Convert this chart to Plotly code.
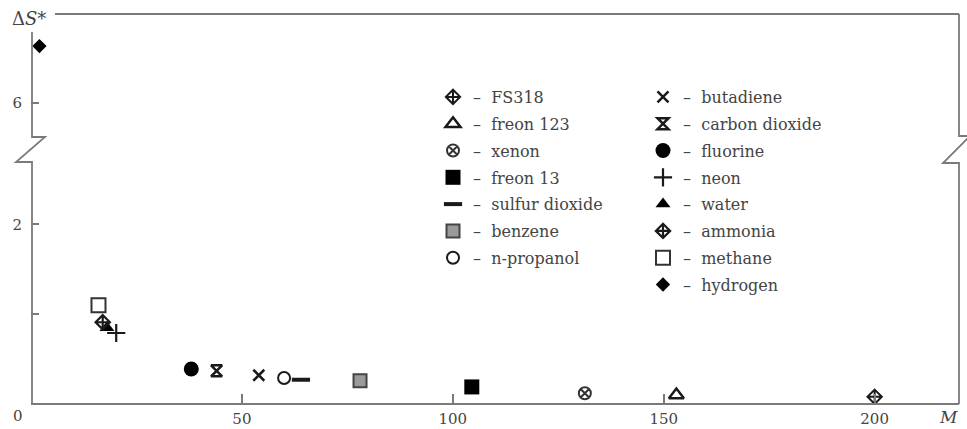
import plotly.graph_objects as go

# ---- data ----
substances = ["FS318", "freon 123", "xenon", "freon 13", "sulfur dioxide", "benzene", "n-propanol",
              "butadiene", "carbon dioxide", "fluorine", "neon", "water", "ammonia", "methane", "hydrogen"]
molar_mass = [200, 153, 131.3, 104.5, 64, 78, 60, 54, 44, 38, 20.2, 18, 17, 16, 2]
delta_s = [0.08, 0.10, 0.12, 0.19, 0.27, 0.26, 0.29, 0.32, 0.37, 0.39, 0.79, 0.85, 0.91, 1.10, 6.64]
legend_column = [1, 1, 1, 1, 1, 1, 1, 2, 2, 2, 2, 2, 2, 2, 2]
x_ticks = [50, 100, 150, 200]
y_ticks_low = [1, 2]
y_ticklabels_low = ["", "2"]
y_ticks_high = [6]

# ---- styles ----
DARK = "#1a1a1a"
LINE = "#7a7a7a"
TXT = "#444444"
FONT = "DejaVu Serif"

styles = {
    "FS318": dict(symbol="diamond-cross-open", size=11, color=DARK, line=dict(width=2, color=DARK)),
    "freon 123": dict(symbol="triangle-up-open", size=13, color=DARK, line=dict(width=2.5, color=DARK)),
    "xenon": dict(symbol="circle-x-open", size=12, color="#333", line=dict(width=2, color="#333")),
    "freon 13": dict(symbol="square", size=15, color="#000", line=dict(width=0)),
    "sulfur dioxide": dict(symbol="line-ew", size=13, color=DARK, line=dict(width=4, color=DARK)),
    "benzene": dict(symbol="square", size=13, color="#9a9a9a", line=dict(width=2, color="#444")),
    "n-propanol": dict(symbol="circle-open", size=12, color=DARK, line=dict(width=2, color=DARK)),
    "butadiene": dict(symbol="x-thin-open", size=11, color=DARK, line=dict(width=2.5, color=DARK)),
    "carbon dioxide": dict(symbol="hourglass-open", size=11, color=DARK, line=dict(width=2.5, color=DARK)),
    "fluorine": dict(symbol="circle", size=15, color="#000", line=dict(width=0)),
    "neon": dict(symbol="cross-thin-open", size=13, color=DARK, line=dict(width=2.2, color=DARK)),
    "water": dict(symbol="triangle-up", size=13, color="#000", line=dict(width=0)),
    "ammonia": dict(symbol="diamond-cross-open", size=11, color=DARK, line=dict(width=2.2, color=DARK)),
    "methane": dict(symbol="square-open", size=14, color="#333", line=dict(width=2, color="#333")),
    "hydrogen": dict(symbol="diamond", size=11, color="#000", line=dict(width=0)),
}

fig = go.Figure()
for name, m, ds, col in zip(substances, molar_mass, delta_s, legend_column):
    fig.add_trace(go.Scatter(
        x=[m], y=[ds], mode="markers", name="–  " + name,
        marker=styles[name],
        yaxis="y2" if ds > 5 else "y",
        legend="legend" if col == 1 else "legend2",
        legendgroup=name, showlegend=True,
    ))

# ---- geometry helpers (pixels -> paper) ----
L, R, T, B = 31, 959, 14, 404
W, H = R - L, B - T
px = lambda x: (x - L) / W
py = lambda y: (B - y) / H

axis_font = dict(family=FONT, size=15, color=TXT)

frame_left = (f"M {px(32)},{py(32)} L {px(32)},{py(137)} L {px(45)},{py(137)} "
              f"L {px(16)},{py(162)} L {px(32)},{py(162)} L {px(32)},{py(404)}")
frame_right = (f"M {px(959)},{py(14)} L {px(959)},{py(136)} L {px(970)},{py(136)} "
               f"L {px(943)},{py(163)} L {px(959)},{py(163)} L {px(959)},{py(404)}")
frame_top = f"M {px(55)},{py(14)} L {px(959)},{py(14)}"
frame_bottom = f"M {px(31)},{py(404)} L {px(959)},{py(404)}"

shapes = [dict(type="path", path=p, xref="paper", yref="paper",
               line=dict(color=LINE, width=1.8), layer="above")
          for p in (frame_left, frame_right, frame_top, frame_bottom)]

legend_common = dict(bgcolor="rgba(0,0,0,0)", font=dict(family=FONT, size=16, color=TXT),
                     tracegroupgap=3, xanchor="left", yanchor="top", itemsizing="trace")

fig.update_layout(
    width=967, height=429,
    margin=dict(l=L, r=967 - R, t=T, b=429 - B, pad=0, autoexpand=False),
    paper_bgcolor="white", plot_bgcolor="white",
    xaxis=dict(domain=[0, 1], range=[0, 220], tickvals=x_ticks, ticks="inside", ticklen=10,
               tickwidth=1.5, tickcolor=LINE, showline=False, showgrid=False, zeroline=False,
               tickfont=axis_font, anchor="y", ticklabelstandoff=4, automargin=False),
    yaxis=dict(domain=[0, py(165)], range=[0, 2.66], tickvals=y_ticks_low, ticktext=y_ticklabels_low,
               ticks="inside", ticklen=8, tickwidth=1.5, tickcolor=LINE, showline=False,
               showgrid=False, zeroline=False, tickfont=axis_font, anchor="x", ticklabelstandoff=8,
               automargin=False),
    yaxis2=dict(domain=[py(138), 1], range=[5.61, 7.0], tickvals=y_ticks_high,
                ticks="inside", ticklen=8, tickwidth=1.5, tickcolor=LINE, showline=False,
                showgrid=False, zeroline=False, tickfont=axis_font, anchor="x", ticklabelstandoff=8,
                automargin=False),
    legend=dict(x=px(433), y=py(80), **legend_common),
    legend2=dict(x=px(643), y=py(80), **legend_common),
    shapes=shapes,
    annotations=[
        dict(text="0", x=px(18), y=py(416), xref="paper", yref="paper", showarrow=False,
             font=axis_font, xanchor="center", yanchor="middle"),
        dict(text="<i>M</i>", x=px(948), y=py(417), xref="paper", yref="paper", showarrow=False,
             font=dict(family=FONT, size=17, color=TXT), xanchor="center", yanchor="middle"),
        dict(text="Δ<i>S</i>*", x=px(10), y=py(19), xref="paper", yref="paper", showarrow=False,
             font=dict(family=FONT, size=18, color=TXT), xanchor="left", yanchor="middle"),
    ],
    showlegend=True,
)

fig.write_html("out.html")
